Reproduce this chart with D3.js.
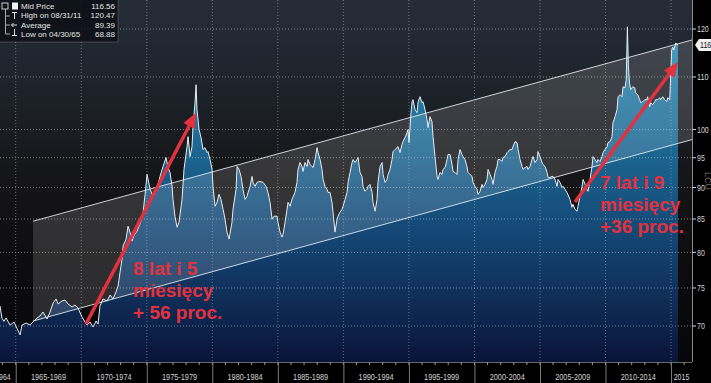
<!DOCTYPE html>
<html><head><meta charset="utf-8">
<script src="https://cdn.jsdelivr.net/npm/d3@7"></script>
<style>
body{margin:0;background:#000;overflow:hidden}
svg{display:block}
</style>
</head><body>
<svg id="c" width="711" height="383"></svg>
<script>
// ---- data (decimal year, mid price) ----
const years = [1963.80,1963.95,1964.10,1964.26,1964.57,1964.87,1965.33,1965.48,1965.79,1966.09,1966.32,1966.63,1966.85,1967.08,1967.39,1967.62,1967.85,1968.08,1968.23,1968.53,1968.76,1968.99,1969.30,1969.52,1969.75,1970.06,1970.29,1970.44,1970.67,1970.90,1971.13,1971.28,1971.43,1971.66,1971.97,1972.20,1972.42,1972.65,1972.81,1972.96,1973.11,1973.19,1973.42,1973.57,1973.72,1973.87,1974.03,1974.26,1974.41,1974.56,1974.71,1974.87,1975.02,
1975.25,1975.48,1975.78,1976.01,1976.24,1976.47,1976.62,1976.77,1976.93,1977.00,1977.15,1977.31,1977.46,1977.69,1977.84,1978.07,1978.15,1978.30,1978.45,1978.53,1978.68,1978.76,1978.83,1978.99,1979.14,1979.29,1979.44,1979.60,1979.67,1979.83,1979.98,1980.05,1980.21,1980.36,1980.51,1980.66,1980.82,1980.97,1981.12,1981.28,1981.50,1981.58,1981.81,1981.89,1982.04,1982.19,1982.34,1982.50,1982.65,1982.73,1982.88,1983.03,1983.11,1983.26,1983.41,1983.64,1983.87,1984.10,1984.25,1984.40,1984.56,1984.71,1984.94,1985.01,1985.17,1985.32,1985.40,1985.55,
1985.70,1985.78,1985.93,1986.08,1986.31,1986.46,1986.54,1986.69,1986.84,1986.92,1987.07,1987.23,1987.30,1987.46,1987.61,1987.69,1987.84,1987.99,1988.07,1988.22,1988.37,1988.45,1988.60,1988.75,1988.83,1988.98,1989.13,1989.21,1989.36,1989.52,1989.59,1989.74,1989.90,1989.97,1990.13,1990.28,1990.36,1990.51,1990.66,1990.74,1990.89,1991.04,1991.12,1991.27,1991.42,1991.50,1991.65,1991.80,1991.88,1992.03,1992.19,1992.26,1992.42,1992.57,1992.64,1992.80,1992.95,1993.03,1993.18,1993.33,1993.41,1993.56,1993.71,1993.79,1993.94,1994.09,1994.17,1994.32,1994.47,1994.55,1994.70,1994.86,1994.93,1995.01,1995.16,1995.24,1995.31,1995.47,1995.62,1995.70,1995.85,1996.00,
1996.08,1996.23,1996.38,1996.46,1996.61,1996.76,1996.84,1996.99,1997.15,1997.22,1997.37,1997.53,1997.60,1997.76,1997.91,1997.98,1998.14,1998.29,1998.37,1998.52,1998.67,1998.75,1998.90,1999.05,1999.13,1999.28,1999.43,1999.51,1999.66,1999.82,1999.89,2000.04,2000.20,2000.27,2000.43,2000.58,2000.66,2000.81,2000.96,2001.04,2001.19,2001.34,2001.42,2001.57,2001.72,2001.80,2001.95,2002.11,2002.18,2002.33,2002.49,2002.56,2002.72,2002.87,2002.94,2003.10,2003.25,2003.33,2003.48,2003.63,2003.71,2003.86,2004.01,2004.09,2004.24,2004.39,2004.47,2004.62,2004.78,2004.85,2005.00,2005.16,2005.23,2005.39,2005.54,2005.62,2005.77,2005.92,2006.00,2006.15,2006.30,2006.38,2006.53,2006.68,2006.76,
2006.91,2007.06,2007.29,2007.44,2007.52,2007.67,2007.83,2007.90,2008.06,2008.21,2008.29,2008.44,2008.59,2008.67,2008.82,2008.97,2009.05,2009.20,2009.35,2009.43,2009.58,2009.73,2009.81,2009.96,2010.12,2010.19,2010.35,2010.50,2010.57,2010.73,2010.88,2010.96,2011.11,2011.26,2011.34,2011.49,2011.58,2011.67,2011.75,2011.83,2011.92,2012.08,2012.23,2012.30,2012.46,2012.61,2012.69,2012.84,2012.99,2013.15,2013.22,2013.37,2013.45,2013.60,2013.76,2013.83,2013.99,2014.14,2014.21,2014.37,2014.52,2014.67,2014.75,2014.90,2014.98,2015.05,2015.13,2015.21,2015.36,2015.53];
const values = [72.6,71.0,70.6,71.02,70.12,70.50,68.88,70.12,70.38,70.12,70.50,71.02,71.28,71.80,70.89,71.80,72.98,73.52,72.85,73.25,73.38,72.85,72.46,72.72,72.32,71.15,70.50,70.12,70.50,69.87,70.63,70.25,72.59,73.52,73.25,74.05,73.52,74.46,75.27,77.19,79.04,80.93,81.96,83.90,83.00,81.66,82.55,83.15,83.90,84.66,85.90,88.89,92.16,
89.70,88.57,89.70,91.83,93.50,95.03,93.33,92.49,90.19,88.09,85.43,83.75,84.51,88.09,93.00,96.94,98.71,95.20,96.94,100.51,104.98,108.45,103.66,99.97,98.53,96.42,96.76,95.89,96.07,94.69,93.00,90.19,86.99,87.62,88.89,88.09,86.52,84.97,83.00,81.96,84.51,86.52,89.70,93.50,93.00,91.83,89.70,88.09,88.57,89.21,90.19,91.83,90.84,90.19,90.84,91.00,90.84,90.19,89.21,87.62,84.97,85.43,85.43,84.51,83.00,82.25,82.70,84.51,
86.52,87.62,86.99,88.09,89.21,90.84,93.00,94.18,93.50,92.66,94.18,93.50,94.69,93.84,93.50,93.33,94.69,96.76,95.89,94.69,93.00,91.33,90.19,89.70,89.21,89.21,87.62,86.05,83.00,84.97,85.43,86.05,86.52,86.99,88.09,89.21,90.84,92.49,94.18,94.69,94.18,94.69,95.03,92.49,91.83,90.19,89.38,89.70,90.19,90.51,89.21,87.62,86.21,88.09,90.84,93.50,94.18,92.16,90.84,91.33,92.16,93.00,94.69,96.07,96.42,96.76,96.94,95.89,97.29,97.82,98.53,99.43,99.97,97.65,103.09,105.17,105.55,103.66,103.09,105.17,106.12,104.98,
105.17,103.66,101.80,100.33,102.35,101.43,98.71,95.20,91.83,91.33,92.49,92.16,93.00,93.33,94.69,95.55,95.55,93.84,92.66,92.49,92.16,94.69,96.42,95.55,95.20,94.69,93.50,92.49,92.16,91.83,90.84,90.19,89.70,88.89,89.38,90.51,90.02,90.51,91.33,93.00,92.16,91.33,90.51,92.49,93.50,94.69,94.69,94.35,95.03,95.20,95.89,96.07,96.42,96.42,96.94,97.82,97.65,96.42,94.69,93.50,93.00,93.33,93.50,93.00,93.50,94.69,95.20,94.18,94.69,96.07,95.20,94.18,93.84,93.50,92.49,91.66,91.66,91.83,91.83,91.33,90.19,91.33,90.84,90.02,90.19,
89.70,89.21,88.09,86.83,87.30,86.52,86.21,86.99,88.57,90.19,91.33,90.51,89.70,89.38,91.33,93.50,95.20,94.69,94.18,94.69,94.35,95.20,95.89,96.42,96.94,97.65,97.82,98.71,101.24,102.35,103.66,106.12,106.51,106.12,108.06,107.86,109.43,120.47,112.0,108.84,107.47,108.06,107.86,106.89,106.51,105.55,104.98,105.17,105.55,105.55,106.12,104.22,104.98,104.60,105.17,105.55,105.55,105.93,105.55,106.12,105.55,105.17,105.93,105.55,110.81,115.51,116.14,115.51,116.99,116.56];

const periodBounds = [1965,1970,1975,1980,1985,1990,1995,2000,2005,2010,2015];
const periodLabels = ["1964","1965-1969","1970-1974","1975-1979","1980-1984","1985-1989","1990-1994","1995-1999","2000-2004","2005-2009","2010-2014","2015"];
const yTicks = [70,75,80,85,90,95,100,110,120];

// trend channel (straight on the log chart)
const channelYears = [1966.32, 2016.60];
const channelUpper = [84.66, 117.63];
const channelLower = [70.63, 98.18];

// red arrows
const arrowStartYears = [1970.36, 2007.67];
const arrowStartValues = [70.25, 87.66];
const arrowEndYears = [1978.76, 2015.53];
const arrowEndValues = [103.09, 113.0];

// annotations anchored at (year, value)
const annoYears = [1973.95, 2009.58];
const annoValues = [76.8, 89.7];
const annoLines = [["8 lat i 5","miesięcy","+ 56 proc."],["7 lat i 9","miesięcy","+36 proc."]];

const legendLabels = ["Mid Price","High on 08/31/11","Average","Low on 04/30/65"];
const legendValues = ["116.56","120.47","89.39","68.88"];
const lastLabel = "116.56";

// ---- layout ----
const W = 711, H = 383, plotR = 692, plotB = 362;
const x = d3.scaleLinear().domain([1963.80, 2016.60]).range([0, plotR]);
const y = d3.scaleLog().domain([70, 120]).range([326, 29]);
const data = years.map((d, i) => ({t: d, v: values[i]}));

const svg = d3.select('#c');
const defs = svg.append('defs');
function grad(id, stops, y1, y2) {
  const g = defs.append('linearGradient').attr('id', id)
    .attr('gradientUnits', 'userSpaceOnUse').attr('x1', 0).attr('x2', 0).attr('y1', y1).attr('y2', y2);
  stops.forEach(s => g.append('stop').attr('offset', s[0]).attr('stop-color', s[1]));
}
grad('bg', [[0,'#262d38'],[0.25,'#1d222a'],[0.5,'#151517'],[0.75,'#0c0c0e'],[1,'#070709']], 0, plotB);
grad('areaG', [[0,'#2e9cc2'],[0.12,'#288cb2'],[0.4,'#1d6894'],[0.68,'#134270'],[1,'#0a1439']], 0, plotB);
defs.append('clipPath').attr('id','plotClip').append('rect').attr('x',0).attr('y',0).attr('width',plotR).attr('height',plotB);

svg.append('rect').attr('width', W).attr('height', H).attr('fill', '#000');
const plot = svg.append('g').attr('clip-path','url(#plotClip)');
plot.append('rect').attr('width', plotR).attr('height', plotB).attr('fill', 'url(#bg)');

// area
plot.append('path').datum(data)
  .attr('d', d3.area().x(d => x(d.t)).y0(plotB).y1(d => y(d.v)))
  .attr('fill', 'url(#areaG)');

// channel overlay
const chPts = [[x(channelYears[0]), y(channelUpper[0])],[x(channelYears[1]), y(channelUpper[1])],
               [x(channelYears[1]), y(channelLower[1])],[x(channelYears[0]), y(channelLower[0])]];
plot.append('polygon').attr('points', chPts.map(p => p.join(',')).join(' '))
  .attr('fill', 'rgba(255,250,245,0.14)');

// gridlines
plot.selectAll('.hg').data(yTicks).join('line')
  .attr('x1', 0).attr('x2', plotR).attr('y1', d => y(d)).attr('y2', d => y(d))
  .attr('stroke', 'rgba(200,205,212,0.55)').attr('stroke-dasharray', '1,2');
plot.selectAll('.vg').data(periodBounds).join('line')
  .attr('x1', d => x(d)).attr('x2', d => x(d)).attr('y1', 0).attr('y2', plotB)
  .attr('stroke', 'rgba(200,205,212,0.45)').attr('stroke-dasharray', '1,2');

// channel lines
[channelUpper, channelLower].forEach(c => {
  plot.append('line')
    .attr('x1', x(channelYears[0])).attr('y1', y(c[0]))
    .attr('x2', x(channelYears[1])).attr('y2', y(c[1]))
    .attr('stroke', 'rgba(235,240,245,0.85)').attr('stroke-width', 1);
});

// data line
plot.append('path').datum(data)
  .attr('d', d3.line().x(d => x(d.t)).y(d => y(d.v)))
  .attr('fill', 'none').attr('stroke', '#e6edf2').attr('stroke-width', 1);

// axes
svg.append('line').attr('x1', plotR + 0.5).attr('x2', plotR + 0.5).attr('y1', 0).attr('y2', plotB).attr('stroke', '#8a8a8a');
svg.append('line').attr('x1', 0).attr('x2', plotR).attr('y1', plotB + 0.5).attr('y2', plotB + 0.5).attr('stroke', '#6a6a6a');

const sans = '"Liberation Sans",Arial,sans-serif';
const ry = svg.append('g');
ry.selectAll('line').data(yTicks).join('line')
  .attr('x1', plotR).attr('x2', plotR + 4).attr('y1', d => y(d)).attr('y2', d => y(d)).attr('stroke', '#cfcfcf');
ry.selectAll('text').data(yTicks).join('text')
  .attr('x', plotR + 5).attr('y', d => y(d)).attr('dy', '0.35em')
  .attr('font-family', sans).attr('font-size', 9).attr('fill', '#d6d6d6')
  .attr('textLength', d => String(d).length * 3.9).attr('lengthAdjust', 'spacingAndGlyphs')
  .text(d => d);

// last value label
const ly = y(values[values.length - 1]);
svg.append('path')
  .attr('d', `M${plotR + 3},${ly} L${plotR + 7},${ly - 6} L${W + 2},${ly - 6} L${W + 2},${ly + 6} L${plotR + 7},${ly + 6} Z`)
  .attr('fill', '#f2f2f2');
svg.append('text').attr('x', plotR + 8).attr('y', ly).attr('dy', '0.35em')
  .attr('font-family', sans).attr('font-size', 8.5).attr('fill', '#111')
  .attr('textLength', 21).attr('lengthAdjust', 'spacingAndGlyphs').text(lastLabel);

// side label
svg.append('text').attr('transform', `translate(${W - 6},${172}) rotate(90)`)
  .attr('font-family', sans).attr('font-size', 9).attr('fill', '#6e6e6e').text('LCU');

// bottom axis
const yrs = d3.range(1964, 2017);
svg.selectAll('.mt').data(yrs).join('line')
  .attr('x1', d => x(d)).attr('x2', d => x(d)).attr('y1', plotB).attr('y2', plotB + 3)
  .attr('stroke', '#9a9a9a');
svg.selectAll('.sep').data(periodBounds).join('line')
  .attr('x1', d => x(d) + 0.5).attr('x2', d => x(d) + 0.5).attr('y1', plotB).attr('y2', H)
  .attr('stroke', '#7a7a7a');
const ext = [1963.80, ...periodBounds, 2016.60];
svg.selectAll('.pl').data(periodLabels).join('text')
  .attr('x', (d, i) => i === 0 ? x(ext[1]) - 5 : (x(ext[i]) + x(ext[i + 1])) / 2)
  .attr('text-anchor', (d, i) => i === 0 ? 'end' : 'middle')
  .attr('y', 380).attr('font-family', sans).attr('font-size', 8.5).attr('fill', '#d2d2d2')
  .attr('textLength', d => d.length * 3.9).attr('lengthAdjust', 'spacingAndGlyphs')
  .text(d => d);

// arrows
const red = '#e3323e';
arrowStartYears.forEach((sy, i) => {
  const x0 = x(sy), y0 = y(arrowStartValues[i]), x1 = x(arrowEndYears[i]), y1 = y(arrowEndValues[i]);
  const dx = x1 - x0, dy = y1 - y0, L = Math.hypot(dx, dy), ux = dx / L, uy = dy / L;
  const hl = 15, hw = 6.5;
  const bx = x1 - ux * hl, by = y1 - uy * hl;
  svg.append('line').attr('x1', x0).attr('y1', y0).attr('x2', bx + ux * 2).attr('y2', by + uy * 2)
    .attr('stroke', red).attr('stroke-width', 3.5);
  svg.append('polygon')
    .attr('points', `${x1},${y1} ${bx - uy * hw},${by + ux * hw} ${bx + uy * hw},${by - ux * hw}`)
    .attr('fill', red);
});

// annotations
annoLines.forEach((lines, i) => {
  const t = svg.append('text').attr('font-family', sans)
    .attr('font-weight', 'bold').attr('font-size', 19).attr('fill', red);
  lines.forEach((s, j) => t.append('tspan').attr('x', x(annoYears[i])).attr('y', y(annoValues[i]) + j * 22).text(s));
});

// legend
const lg = svg.append('g');
lg.append('rect').attr('x', -1).attr('y', -1).attr('width', 119).attr('height', 43)
  .attr('fill', 'rgba(12,16,22,0.88)').attr('stroke', 'rgba(255,255,255,0.18)');
lg.append('path').attr('d', 'M5.5,9 V34 M5.5,16 H10 M5.5,25 H10 M5.5,34 H10').attr('stroke', '#aaa').attr('fill', 'none');
lg.append('rect').attr('x', 2).attr('y', 3).attr('width', 6).attr('height', 6).attr('fill', 'none').attr('stroke', '#ccc');
lg.append('rect').attr('x', 12).attr('y', 2.5).attr('width', 6).attr('height', 7).attr('fill', '#f2f2f2');
lg.append('path').attr('d', 'M12,12.5 H17 M14.5,12.5 V19').attr('stroke', '#ddd');
lg.append('path').attr('d', 'M11.5,25 H17 M13.5,23 L11.5,25 L13.5,27').attr('stroke', '#ddd').attr('fill', 'none');
lg.append('path').attr('d', 'M14.5,29 V35.5 M12,35.5 H17').attr('stroke', '#ddd');
legendLabels.forEach((s, i) => {
  lg.append('text').attr('x', 21).attr('y', 6 + i * 9.4).attr('dy', '0.35em')
    .attr('font-family', sans).attr('font-size', 8).attr('fill', '#e4e4e4').text(s);
  lg.append('text').attr('x', 115).attr('y', 6 + i * 9.4).attr('dy', '0.35em').attr('text-anchor', 'end')
    .attr('font-family', sans).attr('font-size', 8).attr('fill', '#e4e4e4').text(legendValues[i]);
});
</script>
</body></html>
